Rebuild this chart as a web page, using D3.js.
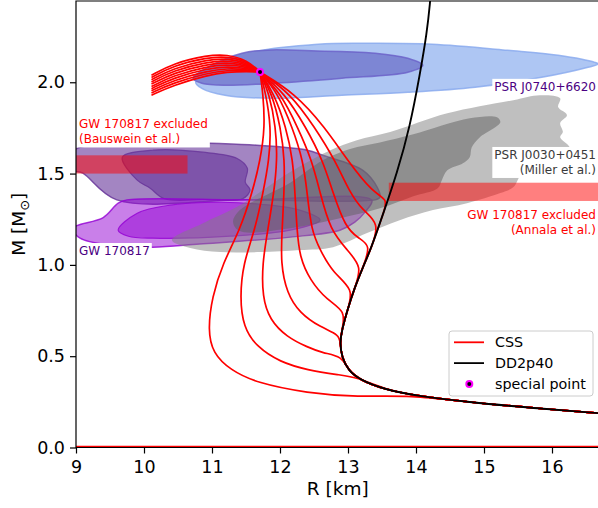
<!DOCTYPE html>
<html>
<head>
<meta charset="utf-8">
<script src="https://cdn.jsdelivr.net/npm/d3@7"></script>
<style>
body { margin: 0; background: #fff; }
svg { font-family: "DejaVu Sans", sans-serif; display: block; }
</style>
</head>
<body>
<div id="chart"></div>
<script>
// values: R in km, M in solar masses
var xTicks = [9, 10, 11, 12, 13, 14, 15, 16];
var yTicks = [0.0, 0.5, 1.0, 1.5, 2.0];

// hadronic branch DD2p40, from low mass up
var dd2p40 = [[16.75,0.186],[15.72,0.216],[14.75,0.249],[14.02,0.282],[13.52,0.32],[13.18,0.369],
    [13.0,0.424],[12.91,0.495],[12.88,0.572],[12.91,0.643],[12.99,0.752],[13.10,0.878],[13.22,0.988],
    [13.34,1.09],[13.52,1.283],[13.72,1.502],[13.91,1.754],[14.06,2.049],[14.16,2.268],[14.21,2.449],[14.22,2.5]];

// CSS hybrid branches, from the transition point on DD2p40 up to the special point
var cssBranches = [
    [[13.94,0.287],[13.13,0.276],[12.40,0.298],[11.66,0.353],[11.27,0.424],[11.01,0.517],[10.94,0.643],[11.00,0.824],[11.16,1.010],[11.41,1.190],[11.59,1.393],[11.71,1.573],[11.78,1.754],[11.75,1.940]],
    [[13.13,0.385],[12.88,0.397],[12.40,0.424],[12.00,0.468],[11.66,0.550],[11.46,0.659],[11.41,0.824],[11.46,1.010],[11.63,1.190],[11.75,1.393],[11.84,1.573],[11.87,1.754],[11.79,1.940]],
    [[12.91,0.501],[12.63,0.517],[12.40,0.550],[12.10,0.605],[11.85,0.698],[11.74,0.824],[11.74,1.010],[11.82,1.190],[11.91,1.393],[11.96,1.573],[11.94,1.754],[11.84,1.940]],
    [[12.88,0.616],[12.59,0.659],[12.29,0.736],[12.10,0.845],[12.01,1.010],[12.03,1.190],[12.06,1.393],[12.07,1.573],[12.01,1.754],[11.88,1.940]],
    [[12.97,0.747],[12.69,0.807],[12.44,0.917],[12.29,1.042],[12.25,1.190],[12.22,1.393],[12.19,1.573],[12.09,1.754],[11.91,1.940]],
    [[13.09,0.867],[12.78,0.955],[12.59,1.081],[12.46,1.190],[12.40,1.393],[12.34,1.573],[12.18,1.754],[11.97,1.940]],
    [[13.21,0.988],[12.99,1.081],[12.74,1.190],[12.59,1.393],[12.47,1.573],[12.26,1.754],[12.01,1.940]],
    [[13.34,1.108],[13.15,1.146],[12.96,1.207],[12.78,1.393],[12.63,1.573],[12.38,1.754],[12.07,1.940]],
    [[13.47,1.228],[13.21,1.300],[13.03,1.393],[12.81,1.573],[12.51,1.754],[12.15,1.940]],
    [[13.59,1.36],[13.37,1.393],[12.99,1.573],[12.66,1.754],[12.22,1.940]]
];
var specialPoint = [11.706, 2.056];
// part of each branch beyond the special point
var fanR = [11.52, 11.22, 10.93, 10.43, 10.11];
var fanM = [
    [2.120,2.153,2.148,2.104,2.038],
    [2.113,2.142,2.136,2.091,2.026],
    [2.106,2.131,2.124,2.077,2.014],
    [2.099,2.120,2.111,2.064,2.002],
    [2.091,2.109,2.099,2.051,1.990],
    [2.084,2.098,2.087,2.037,1.977],
    [2.077,2.087,2.075,2.024,1.965],
    [2.070,2.076,2.062,2.011,1.953],
    [2.064,2.066,2.050,1.997,1.941],
    [2.060,2.056,2.038,1.984,1.929]
];
var lowLine = [[8.9,0.005],[16.8,0.005]];

// observational constraints
var j0740Outer = [[10.76,2.0],[11.44,2.148],[12.56,2.208],[13.40,2.213],[14.24,2.208],[15.35,2.175],[16.09,2.148],
    [16.63,2.109],[16.68,2.10],[16.53,2.082],[15.85,2.027],[14.87,1.973],[13.88,1.945],[12.91,1.929],[11.93,1.912],[11.19,1.929],[10.85,1.967]];
var j0740Inner = [[10.72,2.02],[11.44,2.159],[12.66,2.170],[13.40,2.159],[13.88,2.131],[14.10,2.093],[13.88,2.055],
    [12.91,2.022],[11.93,1.995],[11.19,1.984],[10.85,1.995]];
var j0030Outer = [[10.41,1.136],[10.90,1.234],[11.41,1.327],[12.15,1.508],[12.74,1.628],[13.13,1.683],[13.62,1.727],
    [14.46,1.83],[15.43,1.902],[15.82,1.929],[16.12,1.912],[16.09,1.864],[16.22,1.82],[16.12,1.776],[16.16,1.727],
    [16.12,1.699],[16.26,1.644],[16.26,1.59],[16.0,1.53],[15.57,1.502],[15.43,1.425],[15.24,1.393],[14.75,1.338],
    [14.25,1.30],[13.76,1.245],[13.28,1.174],[12.78,1.097],[12.29,1.081],[11.71,1.07],[11.12,1.07],[10.68,1.092]];
var j0030Inner = [[11.31,1.234],[11.41,1.30],[12.15,1.45],[12.63,1.573],[13.03,1.635],[13.47,1.67],[13.96,1.715],
    [14.79,1.803],[15.19,1.808],[15.24,1.781],[14.94,1.699],[14.82,1.644],[14.79,1.59],[14.69,1.557],[14.46,1.518],
    [14.38,1.464],[14.32,1.42],[13.96,1.376],[13.47,1.31],[12.88,1.256],[12.15,1.201],[11.41,1.185]];
var gwHeavyOuter = [[8.95,1.62],[9.40,1.666],[10.38,1.683],[10.68,1.672],[11.66,1.655],[12.40,1.628],[12.63,1.60],
    [13.22,1.518],[13.43,1.425],[13.47,1.37],[13.40,1.356],[11.5,1.356],[9.60,1.356],[9.10,1.502],[8.95,1.52]];
var gwHeavyInner = [[9.68,1.59],[10.13,1.628],[10.87,1.617],[11.37,1.583],[11.52,1.529],[11.49,1.452],[11.56,1.41],
    [11.45,1.362],[10.9,1.358],[10.3,1.362],[10.09,1.42],[9.9,1.464]];
var gwLightOuter = [[9.75,1.356],[11.5,1.356],[13.35,1.354],[13.25,1.289],[13.10,1.234],[12.88,1.19],[12.15,1.152],
    [10.82,1.114],[10.13,1.097],[9.5,1.108],[9.06,1.146],[8.95,1.20],[9.40,1.259],[9.62,1.338]];
var gwLightInner = [[9.62,1.19],[9.90,1.283],[10.38,1.327],[11.12,1.343],[11.71,1.332],[12.29,1.30],[12.59,1.245],
    [12.15,1.19],[11.27,1.157],[10.13,1.146],[9.77,1.157]];
var bausweinR = [8.9, 10.64], bausweinM = [1.50, 1.60];
var annalaR = [13.60, 16.8], annalaM = [1.35, 1.45];

var labelLines = [["GW 170817 excluded", "(Bauswein et al.)"], ["GW 170817"], ["PSR J0740+6620"],
    ["PSR J0030+0451", "(Miller et al.)"], ["GW 170817 excluded", "(Annala et al.)"]];
var labelR = [9.044, 9.044, 16.647, 16.647, 16.647];
var labelM = [1.747, 1.054, 1.953, 1.580, 1.251];

var width = 598, height = 508;
var margin = {top: 1, left: 76, bottom: 447.5, right: 599.6};

var x = d3.scaleLinear().domain([9, 16.7]).range([margin.left, margin.right]);
var y = d3.scaleLinear().domain([0, 2.445]).range([margin.bottom, margin.top]);

var svg = d3.select("#chart").append("svg")
    .attr("width", width)
    .attr("height", height);

svg.append("clipPath").attr("id", "plot")
    .append("rect")
    .attr("x", margin.left).attr("y", margin.top)
    .attr("width", margin.right - margin.left).attr("height", margin.bottom - margin.top);

var line = d3.line()
    .x(function(d) { return x(d[0]); })
    .y(function(d) { return y(d[1]); })
    .curve(d3.curveBasis);

var blob = d3.line()
    .x(function(d) { return x(d[0]); })
    .y(function(d) { return y(d[1]); })
    .curve(d3.curveCatmullRomClosed.alpha(0.5));

var g = svg.append("g").attr("clip-path", "url(#plot)");

function region(pts, fill, opacity, stroke, sw) {
    g.append("path")
        .attr("d", blob(pts))
        .attr("fill", fill)
        .attr("fill-opacity", opacity)
        .attr("stroke", stroke)
        .attr("stroke-width", sw)
        .attr("stroke-opacity", stroke == "none" ? 0 : 0.8);
}

// PSR J0740+6620
region(j0740Outer, "#aec6f3", 1, "#86a8ee", 1.5);
region(j0740Inner, "#7d86d4", 1, "#6a5fc8", 1.5);
// GW 170817 component masses
region(gwHeavyOuter, "#663399", 0.6, "#663399", 1.5);
region(gwHeavyInner, "#663399", 0.6, "#663399", 1.2);
region(gwLightOuter, "#9400d3", 0.5, "#9400d3", 1.5);
region(gwLightInner, "#9400d3", 0.5, "#9400d3", 1.2);
// PSR J0030+0451
region(j0030Outer, "#808080", 0.5, "none", 0);
region(j0030Inner, "#606060", 0.5, "none", 0);

function band(rr, mm) {
    g.append("rect")
        .attr("x", x(rr[0]))
        .attr("y", y(mm[1]))
        .attr("width", x(rr[1]) - x(rr[0]))
        .attr("height", y(mm[0]) - y(mm[1]))
        .attr("fill", "red")
        .attr("fill-opacity", 0.5);
}
band(bausweinR, bausweinM);
band(annalaR, annalaM);

// CSS curves: DD2p40 up to the transition, then the hybrid branch
g.append("path")
    .attr("d", d3.line().x(function(d) { return x(d[0]); }).y(function(d) { return y(d[1]); })(lowLine))
    .attr("fill", "none").attr("stroke", "red").attr("stroke-width", 1.5);

for (var i = 0; i < cssBranches.length; ++i) {
    var start = cssBranches[i][0];
    var pts = dd2p40.filter(function(p) { return p[1] < start[1] - 0.02; });
    pts = pts.concat(cssBranches[i]);
    // all branches meet at the special point
    pts.push(specialPoint, specialPoint, specialPoint);
    for (var j = 0; j < fanR.length; ++j) {
        pts.push([fanR[j], fanM[i][j]]);
    }
    g.append("path")
        .attr("d", line(pts))
        .attr("fill", "none")
        .attr("stroke", "red")
        .attr("stroke-width", 1.7);
}

g.append("path")
    .attr("d", line(dd2p40))
    .attr("fill", "none")
    .attr("stroke", "black")
    .attr("stroke-width", 1.9);

g.append("circle")
    .attr("cx", x(specialPoint[0]))
    .attr("cy", y(specialPoint[1]))
    .attr("r", 3)
    .attr("fill", "black")
    .attr("stroke", "magenta")
    .attr("stroke-width", 2);

// labels with white boxes
var labelColor = ["red", "#4b0082", "#4b0082", "#3a3a3a", "red"];
var labelAnchor = ["start", "start", "end", "end", "end"];
for (var k = 0; k < labelLines.length; ++k) {
    var lg = svg.append("g");
    var bg = lg.append("rect").attr("fill", "white");
    var t = lg.append("text")
        .attr("font-size", 12)
        .attr("fill", labelColor[k])
        .attr("text-anchor", labelAnchor[k]);
    labelLines[k].forEach(function(s, n) {
        t.append("tspan")
            .attr("x", x(labelR[k]))
            .attr("y", y(labelM[k]) + n * 15)
            .text(s);
    });
    var bb = t.node().getBBox();
    bg.attr("x", bb.x - 2).attr("y", bb.y - 1).attr("width", bb.width + 4).attr("height", bb.height + 2);
}

// axes
var xAxis = svg.append("g")
    .attr("transform", "translate(0," + margin.bottom + ")")
    .call(d3.axisBottom(x).tickValues(xTicks).tickSize(6).tickPadding(6.6).tickSizeOuter(0));
var yAxis = svg.append("g")
    .attr("transform", "translate(" + margin.left + ",0)")
    .call(d3.axisLeft(y).tickValues(yTicks).tickFormat(d3.format(".1f")).tickSize(6).tickPadding(5).tickSizeOuter(0));
[xAxis, yAxis].forEach(function(a) {
    a.select(".domain").remove();
    a.selectAll(".tick line").attr("stroke", "black").attr("stroke-width", 1.2);
    a.selectAll(".tick text").attr("fill", "black").attr("font-size", 17.5)
        .attr("font-family", "DejaVu Sans");
});

svg.append("path")
    .attr("d", "M" + margin.right + "," + margin.top + "H" + margin.left + "V" + margin.bottom + "H" + margin.right)
    .attr("fill", "none")
    .attr("stroke", "black")
    .attr("stroke-width", 1.2);

svg.append("text")
    .attr("x", (margin.left + margin.right) / 2)
    .attr("y", 495)
    .attr("text-anchor", "middle")
    .attr("font-size", 18.5)
    .text("R [km]");

var ylab = svg.append("text")
    .attr("transform", "translate(25," + (margin.top + margin.bottom) / 2 + ") rotate(-90)")
    .attr("text-anchor", "middle")
    .attr("font-size", 18.5);
ylab.append("tspan").text("M [M");
ylab.append("tspan").attr("font-size", 13).attr("dy", 4).text("\u2299");
ylab.append("tspan").attr("dy", -4).text("]");

// legend
var leg = svg.append("g");
leg.append("rect")
    .attr("x", 449).attr("y", 331).attr("width", 144).attr("height", 65).attr("rx", 3)
    .attr("fill", "white").attr("fill-opacity", 0.8)
    .attr("stroke", "#cccccc").attr("stroke-width", 1);
var legNames = ["CSS", "DD2p40", "special point"];
var legColors = ["red", "black", null];
legNames.forEach(function(name, n) {
    var cy = 342.3 + n * 20.8;
    if (legColors[n]) {
        leg.append("line").attr("x1", 454).attr("x2", 484).attr("y1", cy).attr("y2", cy)
            .attr("stroke", legColors[n]).attr("stroke-width", 1.8);
    } else {
        leg.append("circle").attr("cx", 469.3).attr("cy", cy).attr("r", 3)
            .attr("fill", "black").attr("stroke", "magenta").attr("stroke-width", 2);
    }
    leg.append("text").attr("x", 495).attr("y", cy + 5.1).attr("font-size", 14.3).text(name);
});
</script>
</body>
</html>
